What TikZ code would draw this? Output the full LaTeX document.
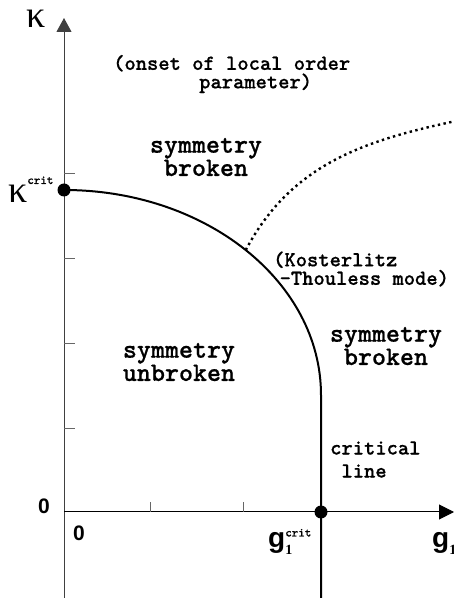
\documentclass[tikz,border=0pt]{standalone}
\usepackage{fontspec}
\newfontfamily\arialfont{Liberation Sans}
\newfontfamily\romanfont{Liberation Serif}
\newfontfamily\typefont{lmmonolt10-bold}[Extension=.otf, FakeBold=0.6]
\usetikzlibrary{arrows.meta,calc,positioning}

\newcommand{\critsup}[1]{\raisebox{#1}{\typefont\fontsize{12.4}{12}\selectfont crit}}
\newcommand{\onesub}{\raisebox{-6.5pt}{\romanfont\fontsize{14}{14}\selectfont 1}}

\begin{document}
\begin{tikzpicture}[
    x=1pt, y=1pt,
    axis/.style={line width=1pt, draw=black!75},
    tick/.style={line width=0.8pt, draw=black!60},
    phase/.style={line width=2pt, draw=black},
    ktline/.style={line width=2.4pt, dash pattern=on 2.4pt off 3.4pt},
    dot/.style={circle, fill=black, inner sep=0pt, minimum size=13pt},
    region/.style={font=\typefont\fontsize{26.7}{21}\selectfont, align=center, inner sep=0pt},
    note/.style={font=\typefont\fontsize{21.5}{18.5}\selectfont, align=left, inner sep=0pt},
    num/.style={font=\arialfont\bfseries\fontsize{21}{21}\selectfont, inner sep=0pt},
    glab/.style={font=\arialfont\bfseries\fontsize{28}{28}\selectfont, inner sep=0pt},
    klab/.style={font=\romanfont\fontsize{38}{30}\selectfont, inner sep=0pt}
  ]
    \useasboundingbox (0,0) rectangle (454,598);
    % axes
    \coordinate (origin) at (64,86);
    \coordinate (ybot) at (64,0);
    \coordinate (ytop) at (64,580);
    \coordinate (xend) at (454,86);
    \draw[axis, -{Triangle[length=14pt, width=15pt]}] (ybot) -- (ytop);
    \draw[line width=1pt, -{Triangle[length=15pt, width=15pt]}] (origin) -- (xend);
    \foreach \y in {170,255,340,425}
      \draw[tick] (64,\y) -- ++(11,0);
    \foreach \x in {150,243}
      \draw[tick] (\x,86) -- ++(0,10);
    % phase boundary
    \coordinate (ctr) at (64,203);
    \coordinate (kc) at (64,408);
    \coordinate (gc) at (321,86);
    \coordinate (gbot) at (321,0);
    \coordinate (kt) at ($(ctr)+(45:257 and 205)$);
    \coordinate (ktend) at (456,477);
    \draw[phase] (kc) arc[start angle=90, end angle=0, x radius=257, y radius=205]
      -- (gc) -- (gbot);
    \draw[ktline] (kt) .. controls (291,433) and (362,457) .. (ktend);
    \node[dot] (kcdot) at (kc) {};
    \node[dot] (gcdot) at (gc) {};
    % labels
    \node[klab, anchor=base west] (kappa) at (26,570) {κ};
    \node[klab, anchor=base west] (kcrit) at (8,395) {κ\critsup{19pt}};
    \node[num] (zerok) at (44,92) {0};
    \node[num] (zerog) at (79,65) {0};
    \node[glab, anchor=base west] (gcrit) at (268,50) {g\rlap{\critsup{11.5pt}}\onesub};
    \node[glab, anchor=base west] (gone) at (432,50) {g\onesub};
    \node[note, anchor=west] (onset) at (113,524) {(onset of local order\\\hspace*{4.0em}parameter)};
    \node[region] (upper) at (206,441) {symmetry\\broken};
    \node[region] (inner) at (179,236) {symmetry\\unbroken};
    \node[region, font=\typefont\fontsize{26.7}{22}\selectfont] (outer) at (386,252) {symmetry\\broken};
    \node[note, anchor=west] (ktnote) at (273,329) {(Kosterlitz\\\hspace*{0.3em}-Thouless mode)};
    \node[note, anchor=west, font=\typefont\fontsize{21.5}{23}\selectfont] (critline) at (330,138.5) {critical\\\hspace*{0.525em}line};
  \end{tikzpicture}
\end{document}
